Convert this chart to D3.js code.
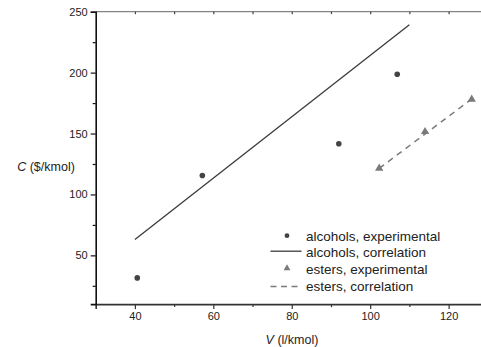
<!DOCTYPE html>
<html>
<head>
<meta charset="utf-8">
<script src="https://cdn.jsdelivr.net/npm/d3@7"></script>
<style>
  html, body { margin: 0; padding: 0; background: #fff; }
  svg { display: block; font-family: "Liberation Sans", Arial, Helvetica, sans-serif; }
</style>
</head>
<body>
<svg id="chart" width="481" height="347"></svg>
<script>
// Molar volume V (l/kmol) vs. cost C ($/kmol)
const alcoholsV = [40.6, 57.2, 92.0, 106.9];
const alcoholsC = [31.5, 115.5, 141.6, 198.6];
const alcoholsCorrV = [40, 110];
const alcoholsCorrC = [63, 239.3];

const estersV = [102.3, 114.0, 125.9];
const estersC = [121.4, 151.5, 178.1];
const estersCorrV = [102.3, 126.4];
const estersCorrC = [121.4, 179.5];

const xTicks = [40, 60, 80, 100, 120];
const yTicks = [50, 100, 150, 200, 250];

const legendLabels = [
  "alcohols, experimental",
  "alcohols, correlation",
  "esters, experimental",
  "esters, correlation"
];

const svg = d3.select("#chart");
const plotLeft = 95.7, plotRight = 487.8, plotTop = 11.7, plotBottom = 304.1;

const x = d3.scaleLinear().domain([30, 130]).range([plotLeft, plotRight]);
const y = d3.scaleLinear().domain([10, 250]).range([plotBottom, plotTop]);

const dark = "#3a3a3a";
const gray = "#7a7a7a";

// top frame line with small inward ticks
svg.append("line")
  .attr("x1", plotLeft).attr("x2", 481).attr("y1", plotTop).attr("y2", plotTop)
  .attr("stroke", "#666").attr("stroke-width", 1);
const topAxis = d3.axisTop(x).tickValues(d3.range(40, 131, 10)).tickSize(-2.5).tickFormat("");
svg.append("g").attr("transform", `translate(0,${plotTop})`).call(topAxis)
  .call(g => g.select(".domain").remove())
  .call(g => g.selectAll("line").attr("stroke", "#444").attr("stroke-width", 1.2));

// bottom axis: major + minor ticks
const xMajor = d3.axisBottom(x).tickValues(xTicks).tickSize(5).tickPadding(3).tickFormat(d3.format("d"));
const xMinor = d3.axisBottom(x).tickValues([50, 70, 90, 110, 130]).tickSize(3).tickFormat("");
const gx = svg.append("g").attr("transform", `translate(0,${plotBottom})`);
gx.call(xMajor);
svg.append("g").attr("transform", `translate(0,${plotBottom})`).call(xMinor)
  .call(g => g.select(".domain").remove())
  .call(g => g.selectAll("line").attr("stroke", "#333").attr("stroke-width", 1.2));
gx.select(".domain").attr("stroke", "#333").attr("stroke-width", 1.6);
gx.selectAll("line").attr("stroke", "#333").attr("stroke-width", 1.2);
gx.selectAll("text").attr("font-size", 11).attr("fill", "#222")
  .attr("font-family", "Liberation Sans, Arial, sans-serif");

// left axis
const yMajor = d3.axisLeft(y).tickValues(yTicks).tickSize(5).tickPadding(3).tickFormat(d3.format("d"));
const yMinor = d3.axisLeft(y).tickValues([25, 75, 125, 175, 225]).tickSize(3).tickFormat("");
const gy = svg.append("g").attr("transform", `translate(${plotLeft},0)`);
gy.call(yMajor);
svg.append("g").attr("transform", `translate(${plotLeft},0)`).call(yMinor)
  .call(g => g.select(".domain").remove())
  .call(g => g.selectAll("line").attr("stroke", "#111").attr("stroke-width", 1.2));
gy.select(".domain").attr("stroke", "#111").attr("stroke-width", 1.6);
gy.selectAll("line").attr("stroke", "#111").attr("stroke-width", 1.2);
gy.selectAll("text").attr("font-size", 11).attr("fill", "#222")
  .attr("font-family", "Liberation Sans, Arial, sans-serif");

// axis titles
const yTitle = svg.append("text").attr("x", 46).attr("y", 171)
  .attr("text-anchor", "middle").attr("font-size", 12.5).attr("fill", "#222");
yTitle.append("tspan").attr("font-style", "italic").text("C");
yTitle.append("tspan").text(" ($/kmol)");

const xTitle = svg.append("text").attr("x", 292).attr("y", 344)
  .attr("text-anchor", "middle").attr("font-size", 12.5).attr("fill", "#222");
xTitle.append("tspan").attr("font-style", "italic").text("V");
xTitle.append("tspan").text(" (l/kmol)");

// alcohols correlation
const line = d3.line().x(d => x(d[0])).y(d => y(d[1]));
svg.append("path")
  .datum(d3.zip(alcoholsCorrV, alcoholsCorrC))
  .attr("d", line).attr("fill", "none").attr("stroke", dark).attr("stroke-width", 1.3);

// esters correlation
svg.append("path")
  .datum(d3.zip(estersCorrV, estersCorrC))
  .attr("d", line).attr("fill", "none").attr("stroke", gray)
  .attr("stroke-width", 1.5).attr("stroke-dasharray", "6,5");

// alcohols experimental
svg.append("g").selectAll("circle")
  .data(d3.zip(alcoholsV, alcoholsC)).join("circle")
  .attr("cx", d => x(d[0])).attr("cy", d => y(d[1])).attr("r", 2.8).attr("fill", "#444");

// esters experimental
const tri = d3.symbol().type(d3.symbolTriangle).size(30);
svg.append("g").selectAll("path")
  .data(d3.zip(estersV, estersC)).join("path")
  .attr("transform", d => `translate(${x(d[0])},${y(d[1])})`)
  .attr("d", tri).attr("fill", gray);

// legend
const legRows = [236.7, 252.7, 269.7, 286.5];
const lg = svg.append("g");
const symX = 287, lineX1 = 270.5, lineX2 = 301.5, textX = 306;
lg.append("circle").attr("cx", symX).attr("cy", legRows[0] - 1).attr("r", 2.4).attr("fill", "#444");
lg.append("line").attr("x1", lineX1).attr("x2", lineX2).attr("y1", legRows[1] - 1.5).attr("y2", legRows[1] - 1.5)
  .attr("stroke", dark).attr("stroke-width", 1.3);
lg.append("path").attr("transform", `translate(${symX},${legRows[2] - 1.5})`)
  .attr("d", d3.symbol().type(d3.symbolTriangle).size(20)).attr("fill", gray);
lg.append("line").attr("x1", lineX1).attr("x2", lineX2).attr("y1", legRows[3]).attr("y2", legRows[3])
  .attr("stroke", gray).attr("stroke-width", 1.5).attr("stroke-dasharray", "6,4.5");
lg.selectAll("text").data(legendLabels).join("text")
  .attr("x", textX).attr("y", (d, i) => legRows[i]).attr("dy", "0.35em")
  .attr("font-size", 13.5).attr("fill", "#222").text(d => d);
</script>
</body>
</html>
